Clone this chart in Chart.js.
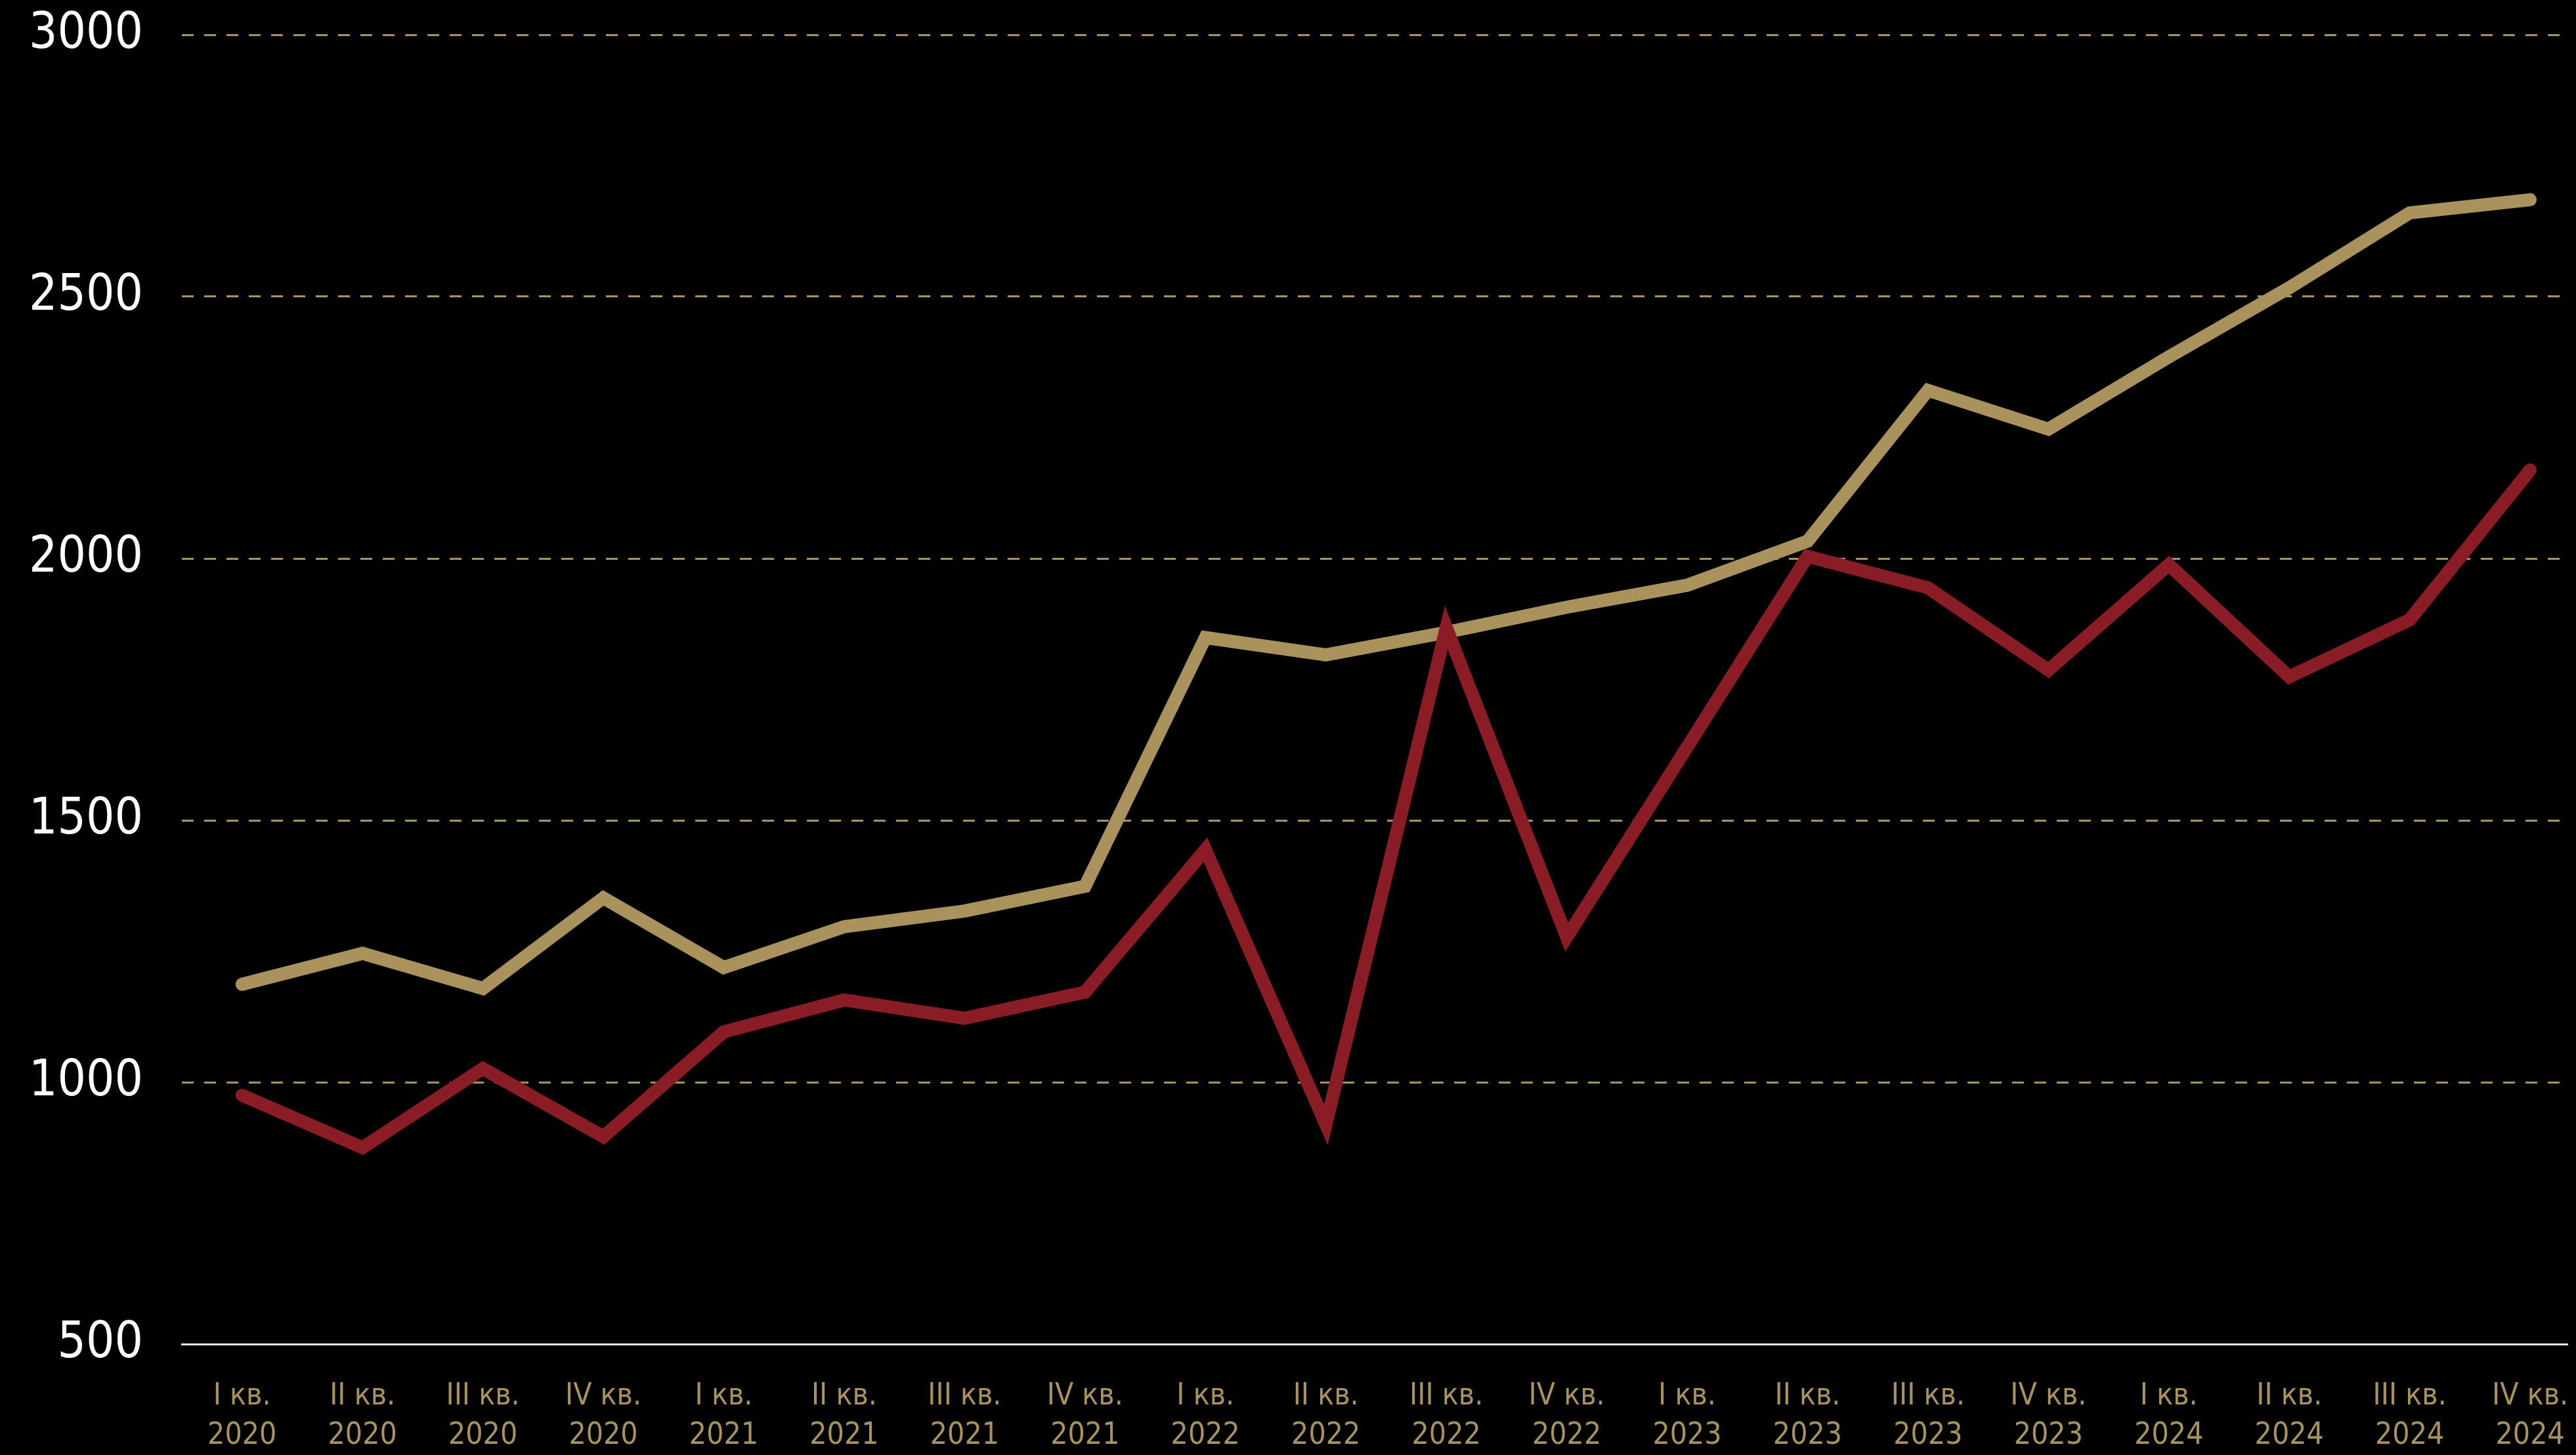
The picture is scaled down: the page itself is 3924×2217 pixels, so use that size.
<!DOCTYPE html>
<html>
<head>
<meta charset="utf-8">
<script src="https://cdn.jsdelivr.net/npm/chart.js@4/dist/chart.umd.min.js"></script>
<style>
  html, body { margin: 0; padding: 0; background: #000; }
  #wrap { width: 3924px; height: 2217px; }
</style>
</head>
<body>
<div id="wrap"><canvas id="priceChart" width="3924" height="2217"></canvas></div>
<script>
// quarters on the x axis
const quarters = ['I кв.', 'II кв.', 'III кв.', 'IV кв.'];
const years = ['2020', '2021', '2022', '2023', '2024'];
const labels = years.flatMap(y => quarters.map(q => [q, y]));

// series values
const goldValues = [1187, 1246, 1179, 1352, 1219, 1297, 1327, 1374,
                    1849, 1816, 1859, 1907, 1949, 2033, 2321, 2247,
                    2385, 2517, 2660, 2685];
const redValues = [975, 875, 1026, 896, 1096, 1157, 1122, 1172,
                   1444, 919, 1868, 1277, 1640, 2004, 1944, 1787,
                   1988, 1774, 1883, 2169];

// y axis ticks
const yTicks = [500, 1000, 1500, 2000, 2500, 3000];

const GOLD = '#a9925b';
const RED = '#8a1c26';
const FONT = '"Liberation Sans Narrow", "DejaVu Sans Condensed", "Arial Narrow", sans-serif';

const toPoints = arr => arr.map((v, i) => ({ x: i, y: v }));

const ctx = document.getElementById('priceChart').getContext('2d');
new Chart(ctx, {
  type: 'line',
  data: {
    datasets: [
      {
        data: toPoints(redValues),
        borderColor: RED,
        borderWidth: 20,
        borderCapStyle: 'round',
        borderJoinStyle: 'miter',
        pointRadius: 0,
        tension: 0
      },
      {
        data: toPoints(goldValues),
        borderColor: GOLD,
        borderWidth: 20,
        borderCapStyle: 'round',
        borderJoinStyle: 'miter',
        pointRadius: 0,
        tension: 0
      }
    ]
  },
  options: {
    responsive: false,
    animation: false,
    devicePixelRatio: 1,
    layout: { padding: { top: 53, right: 13, left: 0, bottom: 0 } },
    plugins: { legend: { display: false }, tooltip: { enabled: false } },
    scales: {
      x: {
        type: 'linear',
        min: -0.5,
        max: 19.31,
        grid: { display: false, drawTicks: false },
        border: { display: true, color: '#e6e6e6', width: 3 },
        afterFit: s => { s.height = 169; s.paddingLeft = 0; s.paddingRight = 0; },
        afterBuildTicks: s => { s.ticks = s.ticks.filter(t => Number.isInteger(t.value)); },
        ticks: {
          stepSize: 1,
          autoSkip: false,
          maxRotation: 0,
          includeBounds: false,
          padding: 50,
          color: GOLD,
          font: { family: FONT, size: 46, lineHeight: 1.3 },
          callback: v => labels[v]
        }
      },
      y: {
        min: yTicks[0],
        max: yTicks[yTicks.length - 1],
        afterFit: s => { s.width = 277; s.paddingTop = 0; s.paddingBottom = 0; },
        afterBuildTicks: s => { s.ticks = yTicks.map(v => ({ value: v })); },
        grid: {
          drawTicks: false,
          lineWidth: 3,
          color: c => (c.tick && c.tick.value === yTicks[0]) ? 'rgba(0,0,0,0)' : GOLD
        },
        border: { display: false, dash: [18, 16] },
        ticks: {
          padding: 59,
          color: '#ffffff',
          font: { family: FONT, size: 76 },
          callback: v => String(v)
        }
      }
    }
  }
});
</script>
</body>
</html>
